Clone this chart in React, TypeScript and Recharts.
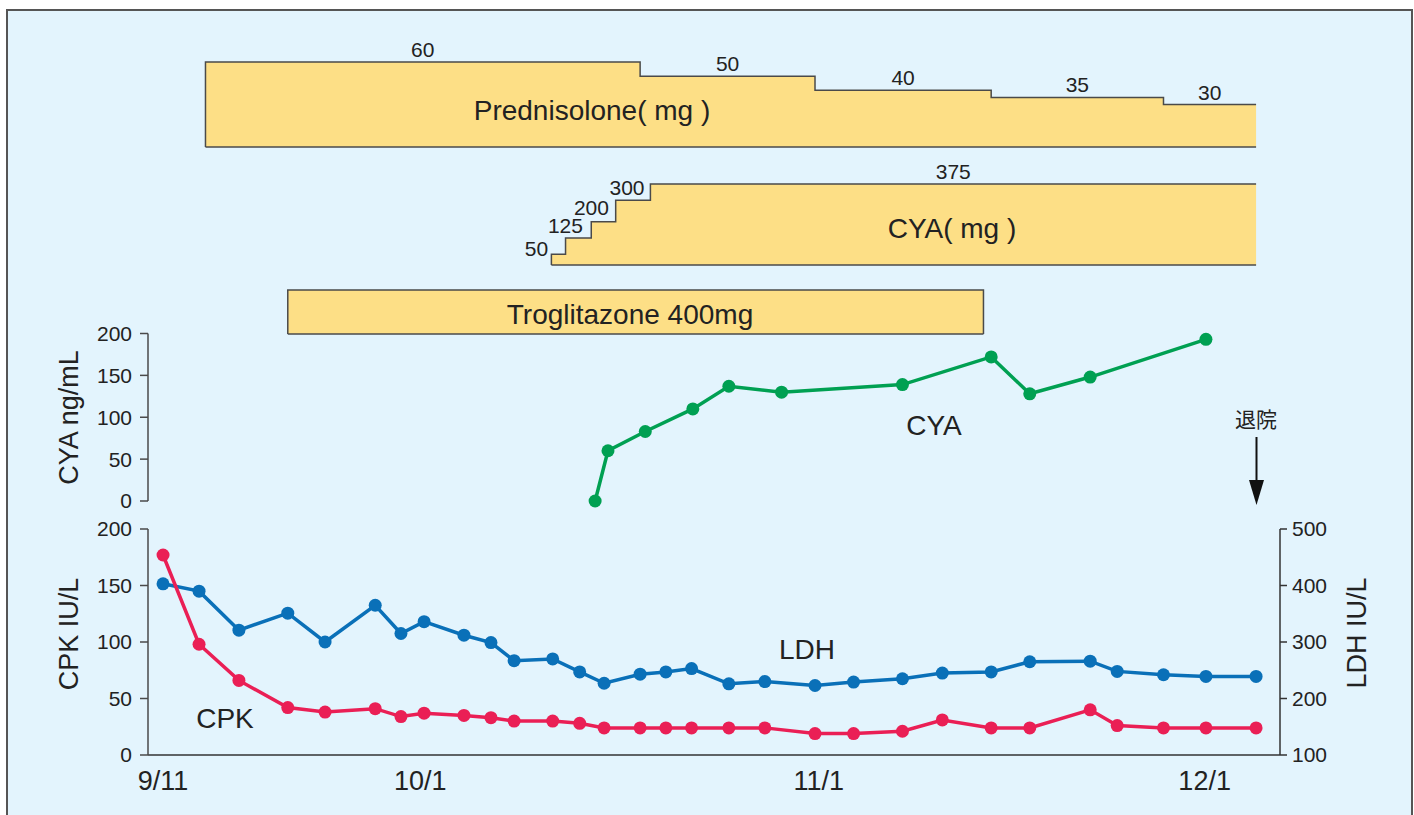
import { ComposedChart, Area, Line, XAxis, YAxis, ReferenceLine, ReferenceDot } from 'recharts'

// x = days counted from 9/11
const xTickDays = [0, 20, 51, 81]
const xTickLabels = ['9/11', '10/1', '11/1', '12/1']
const dischargeDay = 85

const predStartDays = [3.3, 37.1, 50.7, 64.4, 77.8]
const predDoses = [60, 50, 40, 35, 30]

const cyaDoseStartDays = [30.2, 31.3, 33.3, 35.2, 37.9]
const cyaDoses = [50, 125, 200, 300, 375]

const troglitazoneDays = [9.7, 63.8]

const cyaLevelDays = [33.6, 34.6, 37.5, 41.2, 44.0, 48.1, 57.5, 64.4, 67.4, 72.1, 81.1]
const cyaLevels = [0, 60, 83, 110, 137, 130, 139, 172, 128, 148, 193]

const labDays = [
  0, 2.8, 5.9, 9.7, 12.6, 16.5, 18.5, 20.3, 23.4, 25.5, 27.3, 30.3, 32.4, 34.3, 37.1,
  39.1, 41.1, 44.0, 46.8, 50.7, 53.7, 57.5, 60.6, 64.4, 67.4, 72.1, 74.2, 77.8, 81.1, 85.0,
]
const cpk = [
  177, 98, 66, 42, 38, 41, 34, 37, 35, 33, 30, 30, 28, 24, 24,
  24, 24, 24, 24, 19, 19, 21, 31, 24, 24, 40, 26, 24, 24, 24,
]
const ldh = [
  403, 390, 321, 351, 300, 365, 315, 336, 312, 299, 267, 270, 247, 227, 243,
  247, 253, 226, 230, 223, 229, 235, 245, 247, 265, 266, 248, 242, 239, 239,
]

const cyaTicks = [0, 50, 100, 150, 200]
const cpkTicks = [0, 50, 100, 150, 200]
const ldhTicks = [100, 200, 300, 400, 500]

// label nudges for the crowded CYA dose steps (px)
const cyaDoseLabelDx = [-22, -13, -12, -6, 0]
const cyaDoseLabelDy = [2, -5, -7, -5, -5]

const W = 1414
const X_DOMAIN: [number, number] = [-1.17, 86.86]
const FONT = '"Liberation Sans", Arial, Helvetica, sans-serif'
const INK = '#222'
const AXIS = '#4a4a4a'
const YELLOW = '#fddf86'
const GREEN = '#00a052'
const RED = '#ea1f55'
const BLUE = '#0a70b8'

const stepRows = (starts: number[], doses: number[]) => [
  { day: starts[0], dose: 0 },
  ...starts.map((d, i) => ({ day: d, dose: doses[i] })),
  { day: dischargeDay, dose: doses[doses.length - 1] },
]
const predRows = stepRows(predStartDays, predDoses)
const cyaDoseRows = stepRows(cyaDoseStartDays, cyaDoses)
// closed box: up, across, down
const trogRows = [
  { day: troglitazoneDays[0], on: 0 },
  { day: troglitazoneDays[0], on: 1 },
  { day: troglitazoneDays[1], on: 1 },
  { day: troglitazoneDays[1], on: 0 },
]
const cyaLevelRows = cyaLevelDays.map((day, i) => ({ day, level: cyaLevels[i] }))
const labRows = labDays.map((day, i) => ({ day, cpk: cpk[i], ldh: ldh[i] }))

const midDay = (starts: number[], i: number) => ((starts[i] + (starts[i + 1] ?? dischargeDay)) / 2)

const doseLabel = (text: string, dx = 0, dy = -5) => (props: any) => {
  const vb = props.viewBox || {}
  return (
    <text x={vb.x + (vb.width || 0) / 2 + dx} y={vb.y + dy} textAnchor="middle" fontSize={21} fill={INK} fontFamily={FONT}>
      {text}
    </text>
  )
}

const hiddenX = <XAxis type="number" dataKey="day" domain={X_DOMAIN} hide allowDataOverflow />

const place = (top: number, height: number): React.CSSProperties => ({ position: 'absolute', left: 0, top, width: W, height })

export default function App() {
  return (
    <div style={{ position: 'absolute', left: 0, top: 0, width: W, height: 815, overflow: 'hidden', fontFamily: FONT, background: '#fff' }}>
      <div style={{ position: 'absolute', left: 6, top: 9, width: 1407, height: 830, boxSizing: 'border-box', border: '2px solid #555', background: '#e3f4fd' }} />

      {/* Prednisolone dose */}
      <div style={place(0, 160)}>
        <ComposedChart width={W} height={160} data={predRows} margin={{ top: 62, right: 134, bottom: 13, left: 148 }}>
          {hiddenX}
          <YAxis type="number" domain={[0, 60]} hide />
          <Area type="stepAfter" dataKey="dose" stroke={AXIS} strokeWidth={1.5} fill={YELLOW} fillOpacity={1} dot={false} activeDot={false} isAnimationActive={false} />
          <ReferenceLine segment={[{ x: predStartDays[0], y: 0 }, { x: dischargeDay, y: 0 }]} stroke={AXIS} strokeWidth={1.5} />
          {predDoses.map((d, i) => (
            <ReferenceDot key={i} x={midDay(predStartDays, i)} y={d} r={0} fill="none" stroke="none" label={doseLabel(String(d))} />
          ))}
        </ComposedChart>
      </div>

      {/* CYA dose */}
      <div style={place(160, 120)}>
        <ComposedChart width={W} height={120} data={cyaDoseRows} margin={{ top: 24, right: 134, bottom: 15, left: 148 }}>
          {hiddenX}
          <YAxis type="number" domain={[0, 375]} hide />
          <Area type="stepAfter" dataKey="dose" stroke={AXIS} strokeWidth={1.5} fill={YELLOW} fillOpacity={1} dot={false} activeDot={false} isAnimationActive={false} />
          <ReferenceLine segment={[{ x: cyaDoseStartDays[0], y: 0 }, { x: dischargeDay, y: 0 }]} stroke={AXIS} strokeWidth={1.5} />
          {cyaDoses.map((d, i) => (
            <ReferenceDot key={i} x={midDay(cyaDoseStartDays, i)} y={d} r={0} fill="none" stroke="none"
              label={doseLabel(String(d), cyaDoseLabelDx[i], cyaDoseLabelDy[i])} />
          ))}
        </ComposedChart>
      </div>

      {/* Troglitazone */}
      <div style={place(280, 60)}>
        <ComposedChart width={W} height={60} data={trogRows} margin={{ top: 10, right: 134, bottom: 6, left: 148 }}>
          {hiddenX}
          <YAxis type="number" domain={[0, 1]} hide />
          <Area type="linear" dataKey="on" stroke={AXIS} strokeWidth={1.5} fill={YELLOW} fillOpacity={1} dot={false} activeDot={false} isAnimationActive={false} />
          <ReferenceLine segment={[{ x: troglitazoneDays[0], y: 0 }, { x: troglitazoneDays[1], y: 0 }]} stroke={AXIS} strokeWidth={1.5} />
        </ComposedChart>
      </div>

      {/* CYA blood level */}
      <div style={place(320, 200)}>
        <ComposedChart width={W} height={200} data={cyaLevelRows} margin={{ top: 13.5, right: 134, bottom: 19, left: 88 }}>
          {hiddenX}
          <YAxis type="number" domain={[0, 200]} ticks={cyaTicks} width={60} interval={0}
            axisLine={{ stroke: AXIS, strokeWidth: 1.5 }} tickLine={{ stroke: AXIS, strokeWidth: 1.5 }}
            tickSize={8} tickMargin={8} tick={{ fontSize: 21, fill: INK, fontFamily: FONT }} />
          <Line type="linear" dataKey="level" stroke={GREEN} strokeWidth={3.5}
            dot={{ r: 6.5, fill: GREEN, stroke: GREEN, strokeWidth: 0 }} activeDot={false} isAnimationActive={false} />
        </ComposedChart>
      </div>

      {/* CPK / LDH */}
      <div style={place(500, 315)}>
        <ComposedChart width={W} height={315} data={labRows} margin={{ top: 29, right: 74, bottom: 20, left: 88 }}>
          <XAxis type="number" dataKey="day" domain={X_DOMAIN} allowDataOverflow ticks={xTickDays} interval={0} height={40}
            tickFormatter={(v: number) => xTickLabels[xTickDays.indexOf(v)] ?? ''}
            axisLine={{ stroke: '#333', strokeWidth: 1.5 }} tickLine={false} tickSize={0} tickMargin={16}
            tick={{ fontSize: 27, fill: INK, fontFamily: FONT }} />
          <YAxis yAxisId="cpk" type="number" domain={[0, 200]} ticks={cpkTicks} width={60} interval={0}
            axisLine={{ stroke: AXIS, strokeWidth: 1.5 }} tickLine={{ stroke: AXIS, strokeWidth: 1.5 }}
            tickSize={8} tickMargin={8} tick={{ fontSize: 21, fill: INK, fontFamily: FONT }} />
          <YAxis yAxisId="ldh" orientation="right" type="number" domain={[100, 500]} ticks={ldhTicks} width={60} interval={0}
            axisLine={{ stroke: '#333', strokeWidth: 1.5 }} tickLine={{ stroke: '#333', strokeWidth: 1.5 }}
            tickSize={7} tickMargin={5} tick={{ fontSize: 21, fill: INK, fontFamily: FONT }} />
          <Line yAxisId="ldh" type="linear" dataKey="ldh" stroke={BLUE} strokeWidth={3.5}
            dot={{ r: 6.5, fill: BLUE, stroke: BLUE, strokeWidth: 0 }} activeDot={false} isAnimationActive={false} />
          <Line yAxisId="cpk" type="linear" dataKey="cpk" stroke={RED} strokeWidth={3.5}
            dot={{ r: 6.5, fill: RED, stroke: RED, strokeWidth: 0 }} activeDot={false} isAnimationActive={false} />
        </ComposedChart>
      </div>

      {/* text annotations */}
      <svg width={W} height={815} style={{ position: 'absolute', left: 0, top: 0, pointerEvents: 'none' }} fontFamily={FONT} fill={INK}>
        <text x={592} y={120} fontSize={28} textAnchor="middle">Prednisolone( mg )</text>
        <text x={952} y={238} fontSize={28} textAnchor="middle">CYA( mg )</text>
        <text x={630} y={324} fontSize={28} textAnchor="middle">Troglitazone 400mg</text>
        <text x={934} y={435} fontSize={28} textAnchor="middle">CYA</text>
        <text x={807} y={659} fontSize={28} textAnchor="middle">LDH</text>
        <text x={225} y={728} fontSize={28} textAnchor="middle">CPK</text>
        <text transform="translate(77.5,417.5) rotate(-90)" fontSize={27} textAnchor="middle">CYA ng/mL</text>
        <text transform="translate(77.5,634) rotate(-90)" fontSize={27} textAnchor="middle">CPK IU/L</text>
        <text transform="translate(1365.5,633) rotate(-90)" fontSize={27} textAnchor="middle">LDH IU/L</text>
        <text x={1256} y={427} fontSize={21} textAnchor="middle" fontFamily='"Noto Sans CJK JP", sans-serif'>退院</text>
        <line x1={1256.5} y1={437} x2={1256.5} y2={484} stroke="#111" strokeWidth={2} />
        <polygon points="1249,480 1264,480 1256.5,505" fill="#111" />
      </svg>
    </div>
  )
}
